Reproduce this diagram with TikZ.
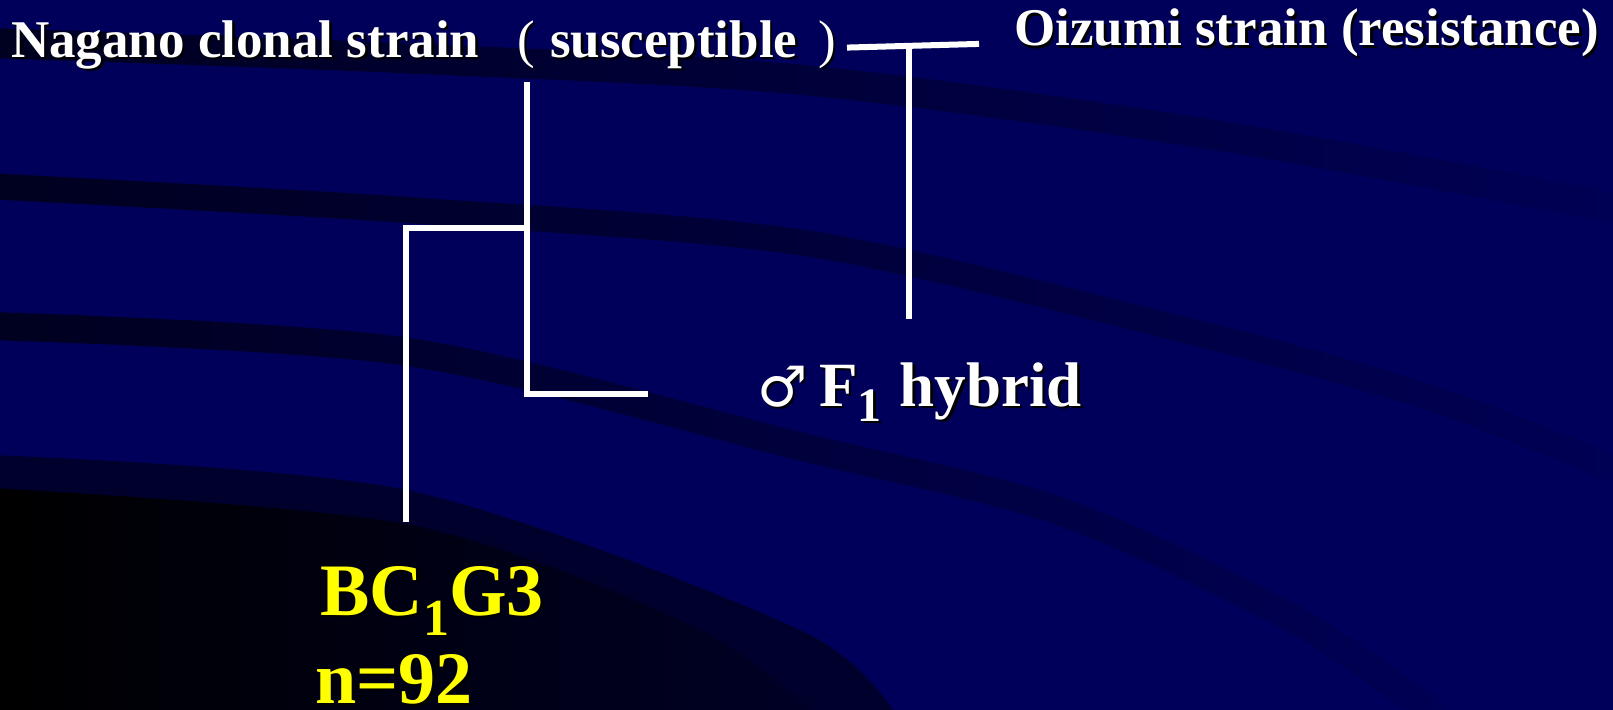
\documentclass[tikz,border=0pt]{standalone}
\usepackage{fontspec}
\setmainfont{Liberation Serif}
\newfontfamily\symfont{DejaVu Sans}
\usetikzlibrary{fadings}

\definecolor{slidebg}{RGB}{0,0,90}
\definecolor{deepnavy}{RGB}{0,0,38}
\definecolor{labelyellow}{RGB}{255,255,0}

% text with a small dark drop shadow behind it
\newcommand\dropshadow[1]{\leavevmode\rlap{\hspace{2.5pt}\raisebox{-2.5pt}{\color{black}#1}}#1}

\tikzfading[name=bandfade, left color=transparent!35, right color=transparent!95]

\begin{document}
\begin{tikzpicture}[x=1pt,y=-1pt,
  band/.style={draw=black, line width=#1, line cap=butt, path fading=bandfade},
  link/.style={draw=white, line width=6pt, line cap=rect, line join=miter},
  lbl/.style={inner sep=0pt, anchor=base west, text=white},
  title/.style={lbl, font=\bfseries\fontsize{53}{60}\selectfont},
  big/.style={lbl, text=labelyellow, font=\bfseries\fontsize{74}{80}\selectfont}]

\useasboundingbox (0,0) rectangle (1613,709);

% slide background with curved dark swooshes
\begin{scope}
\clip (0,0) rectangle (1613,709);
\fill[slidebg] (-5,-5) rectangle (1620,715);
\draw[band=30pt] plot[smooth] coordinates {(-10,43) (400,58) (806,80) (1218,135) (1630,210)};
\draw[band=26pt] plot[smooth] coordinates {(-10,186) (411,210) (806,243) (1166,325) (1423,395) (1630,475)};
\draw[band=28pt] plot[smooth] coordinates {(-10,326) (411,352) (806,447) (1063,511) (1300,620) (1460,730)};
\fill[black, opacity=0.5] plot[smooth] coordinates {(-10,455) (411,491) (806,633) (905,730)} -- (-10,730) -- cycle;
\shade[left color=black, right color=deepnavy]
  plot[smooth] coordinates {(-10,488) (411,525) (700,630) (830,730)} -- (-10,730) -- cycle;
\end{scope}

% labels
\node[title] (nagano) at (11,57)
  {\dropshadow{Nagano clonal strain\hspace{38pt}{\mdseries(}\hspace{15pt}susceptible\hspace{21pt}{\mdseries)}}};
\node[title] (oizumi) at (1014,46) {\dropshadow{Oizumi strain (resistance)}};
\node[lbl, font=\bfseries\fontsize{63}{70}\selectfont] (hybrid) at (757,406)
  {\dropshadow{{\symfont\fontsize{56}{56}\selectfont ♂}\hspace{12pt}F\raisebox{-15pt}{\fontsize{48}{48}\selectfont 1}\hspace{2pt} hybrid}};
\node[big] (bc) at (320,615)
  {\dropshadow{BC\raisebox{-20pt}{\fontsize{52}{52}\selectfont 1}G3}};
\node[big, text depth=0pt] (count) at (315,703) {\dropshadow{n=92}};

% pedigree lines
\coordinate (crossL) at (850,47.5);
\coordinate (crossR) at (976,44);
\coordinate (crossTop) at (909,46);
\coordinate (f1End) at (909,319);
\coordinate (bcTop) at (527,85);
\coordinate (bcMid) at (527,227.5);
\coordinate (bcLow) at (527,394);
\coordinate (f1Tip) at (645,394);
\coordinate (bcCorner) at (406,227.5);
\coordinate (bcEnd) at (406,519);

\draw[link] (crossL) -- (crossR);
\draw[link, line cap=butt] (crossTop) -- (f1End);
\draw[link] (bcTop) -- (bcLow) -- (f1Tip);
\draw[link] (bcMid) -- (bcCorner) -- (bcEnd);
\end{tikzpicture}
\end{document}
